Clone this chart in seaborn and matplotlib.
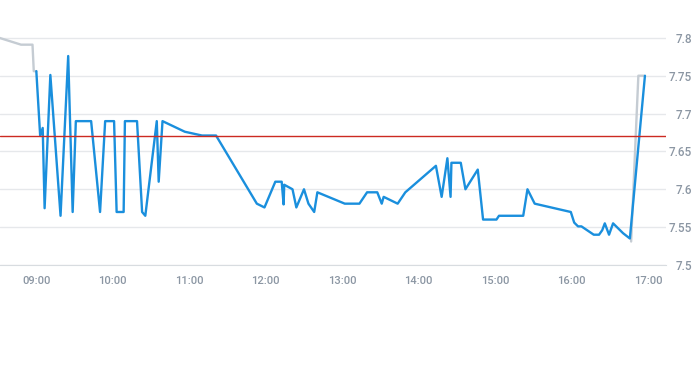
from matplotlib import pyplot as plt
import matplotlib.dates as mdates
from matplotlib.ticker import FuncFormatter
import numpy as np
import pandas as pd
import seaborn as sns

day = "2024-01-02 "

# regular session (blue)
session_times = ["09:00", "09:03", "09:05", "09:06:30", "09:11", "09:19", "09:25", "09:28:30",
                 "09:31", "09:43", "09:50", "09:54", "10:01", "10:03", "10:08:30", "10:09:30",
                 "10:19", "10:23", "10:25:30", "10:34:30", "10:36", "10:39", "10:56:30",
                 "11:10", "11:21", "11:53", "11:59", "12:07:30", "12:12:30", "12:14",
                 "12:14:30", "12:21", "12:24", "12:30", "12:33:30", "12:38", "12:40:30",
                 "13:02", "13:13:30", "13:19:30", "13:27:30", "13:31", "13:32:30", "13:43:30",
                 "13:49:30", "14:13:30", "14:18", "14:22:30", "14:25", "14:25:40", "14:33",
                 "14:36:40", "14:46:20", "14:50:30", "15:01", "15:03", "15:22", "15:25:20",
                 "15:31", "15:59:20", "16:02", "16:05", "16:07:40", "16:17:20", "16:21:30",
                 "16:24", "16:26", "16:29:20", "16:32:30", "16:40:20", "16:45:40", "16:57:30"]
session_prices = [7.756, 7.671, 7.681, 7.575, 7.751, 7.565, 7.776, 7.570,
                  7.690, 7.690, 7.570, 7.690, 7.690, 7.570, 7.570, 7.690,
                  7.690, 7.570, 7.565, 7.690, 7.610, 7.690, 7.676,
                  7.671, 7.671, 7.581, 7.576, 7.610, 7.610, 7.580,
                  7.606, 7.600, 7.576, 7.600, 7.581, 7.570, 7.596,
                  7.581, 7.581, 7.596, 7.596, 7.581, 7.590, 7.581,
                  7.596, 7.631, 7.590, 7.641, 7.590, 7.635, 7.635,
                  7.600, 7.626, 7.560, 7.560, 7.565, 7.565, 7.600,
                  7.581, 7.570, 7.556, 7.551, 7.551, 7.540, 7.540,
                  7.546, 7.555, 7.540, 7.555, 7.542, 7.535, 7.750]

# extended hours (gray)
pre_times = ["08:31", "08:48", "08:57", "08:58", "09:00"]
pre_prices = [7.800, 7.791, 7.791, 7.756, 7.756]
post_times = ["16:46:40", "16:52:20", "16:56:30"]
post_prices = [7.531, 7.750, 7.750]

ref_price = 7.67

def frame(times, prices):
    return pd.DataFrame({"time": pd.to_datetime([day + t for t in times], format="mixed"),
                         "price": prices})

df_session = frame(session_times, session_prices)
df_pre = frame(pre_times, pre_prices)
df_post = frame(post_times, post_prices)

sns.set_style("white")
plt.rcParams['font.family'] = ['Roboto', 'DejaVu Sans']

fig = plt.figure(figsize=(6.93, 3.65), dpi=100)
ax = fig.add_axes([0, 0.274, 0.961, 0.726])

gray = "#c5ccd3"
blue = "#1a8fdd"
sns.lineplot(data=df_pre, x="time", y="price", color=gray, lw=1.7, sort=False, estimator=None, ax=ax)
sns.lineplot(data=df_post, x="time", y="price", color=gray, lw=1.7, sort=False, estimator=None, ax=ax)
sns.lineplot(data=df_session, x="time", y="price", color=blue, lw=1.7, sort=False, estimator=None, ax=ax)
ax.axhline(ref_price, color="#cc2a22", lw=1.0, zorder=3)

ax.set_xlim(pd.Timestamp(day + "08:31:30"), pd.Timestamp(day + "17:14"))
ax.set_ylim(7.5, 7.85)
ax.set_yticks([7.5, 7.55, 7.6, 7.65, 7.7, 7.75, 7.8])
ax.yaxis.set_major_formatter(FuncFormatter(lambda v, p: f"{v:g}"))
ax.yaxis.tick_right()
ax.grid(axis="y", color="#e6e8eb", lw=1)
ax.set_axisbelow(True)

ax.xaxis.set_major_locator(mdates.HourLocator())
ax.xaxis.set_major_formatter(mdates.DateFormatter("%H:%M"))

for s in ["top", "left", "right"]:
    ax.spines[s].set_visible(False)
ax.spines["bottom"].set_color("#d8dce0")
ax.tick_params(axis="x", length=4, color="#d8dce0", pad=4, labelsize=8, labelcolor="#8b96a3")
ax.tick_params(axis="y", length=0, pad=19, labelsize=8.5, labelcolor="#8b96a3")
for lab in ax.get_xticklabels() + ax.get_yticklabels():
    lab.set_fontweight("medium")
for lab in ax.get_yticklabels():
    lab.set_horizontalalignment("right")
ax.set_xlabel("")
ax.set_ylabel("")

fig.savefig("out.png", dpi=100)
